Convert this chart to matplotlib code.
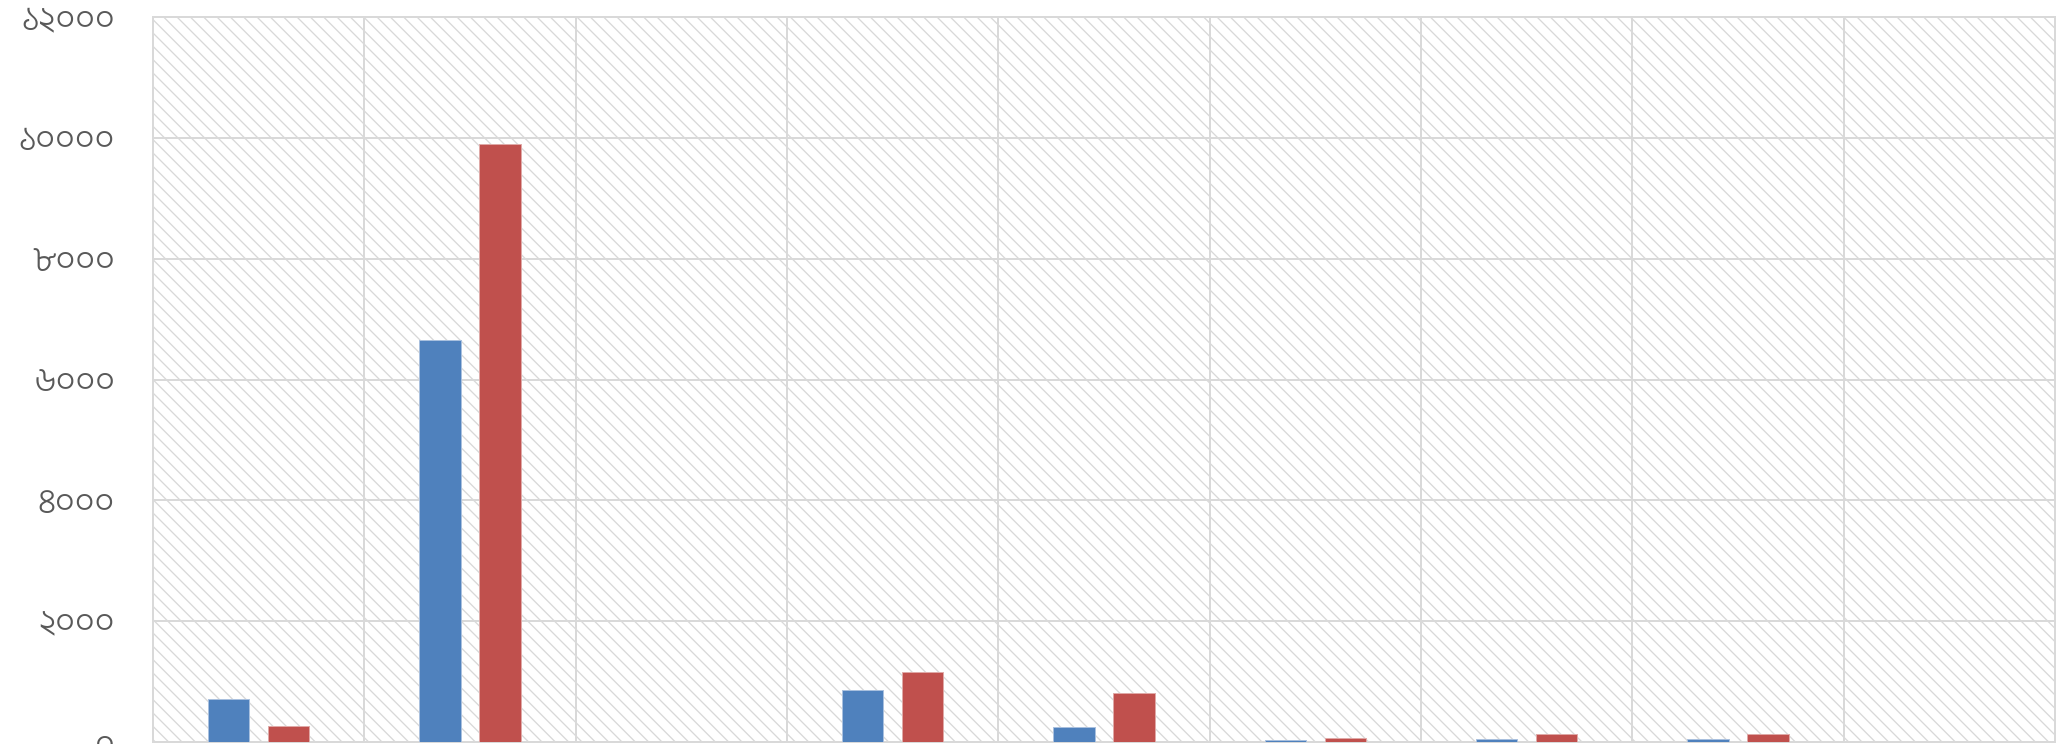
import matplotlib
matplotlib.use("Agg")
import matplotlib.pyplot as plt
from matplotlib import font_manager
from matplotlib.ft2font import FT2Font
from matplotlib.patches import Rectangle
import numpy as np

# ---- data ----
categories = ["1", "2", "3", "4", "5", "6", "7", "8", "9"]
series_blue = [717, 6655, 0, 858, 255, 35, 55, 55, 0]
series_red = [265, 9905, 0, 1166, 818, 62, 132, 137, 0]
ytick_values = [0, 2000, 4000, 6000, 8000, 10000, 12000]
ytick_labels = ["০", "২০০০", "৪০০০", "৬০০০", "৮০০০", "১০০০০", "১২০০০"]

# ---- choose a font with Bengali digits ----
preferred = ["Hind Siliguri", "Baloo Da 2", "Anek Bangla", "Noto Sans Bengali",
             "FreeSans", "Lohit Bengali"]
available = {fe.name for fe in font_manager.fontManager.ttflist}
bengali_font = next((p for p in preferred if p in available), None)
if bengali_font is None:
    for fe in font_manager.fontManager.ttflist:
        try:
            cm = FT2Font(fe.fname).get_charmap()
        except Exception:
            continue
        if 0x09E6 in cm and 0x09E8 in cm:
            bengali_font = fe.name
            break
families = [bengali_font, "DejaVu Sans"] if bengali_font else ["DejaVu Sans"]

W, H, DPI = 2059, 744, 120


def pt(px):
    return px * 72.0 / DPI


fig = plt.figure(figsize=(W / DPI, H / DPI), dpi=DPI)
left, right, top, bottom = 153, 2055, 17, 742
ax = fig.add_axes([left / W, (H - bottom) / H, (right - left) / W, (bottom - top) / H])

n = len(categories)
x = np.arange(n)
ax.set_xlim(-0.5, n - 0.5)
ax.set_ylim(0, 12000)

# hatched background
plt.rcParams["hatch.linewidth"] = pt(1.3)
ax.set_facecolor("white")
bg = Rectangle((0, 0), 1, 1, transform=ax.transAxes, facecolor="white",
               edgecolor="#d8d8d8", linewidth=0, hatch="\\\\\\", zorder=0)
ax.add_patch(bg)

# grid and ticks
ax.set_yticks(ytick_values)
ax.set_yticklabels(ytick_labels, family=families, fontsize=pt(35), color="#595959",
                   fontweight="light")
ax.set_xticks(np.arange(-0.5, n, 1.0), minor=True)
ax.set_xticks([])
ax.grid(True, axis="y", color="#d9d9d9", linewidth=pt(2), zorder=1)
ax.grid(True, axis="x", which="minor", color="#d9d9d9", linewidth=pt(2), zorder=1)
ax.set_axisbelow(True)
ax.tick_params(axis="y", length=0, pad=pt(38))
ax.tick_params(axis="x", which="both", length=0, labelbottom=False)
for s in ax.spines.values():
    s.set_color("#d9d9d9")
    s.set_linewidth(pt(2))

bw = 0.195
off = 0.142
ax.bar(x - off, series_blue, width=bw, color="#4f81bd", edgecolor="#a9c0de",
       linewidth=pt(1), zorder=3)
ax.bar(x + off, series_red, width=bw, color="#c0504d", edgecolor="#dfa9a7",
       linewidth=pt(1), zorder=3)

fig.savefig("out.png", dpi=DPI)
